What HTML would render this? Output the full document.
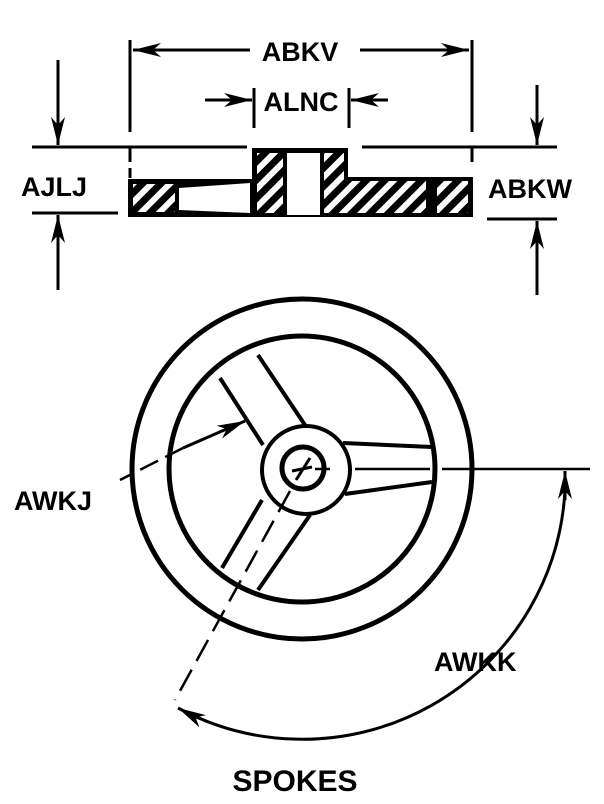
<!DOCTYPE html>
<html><head><style>html,body{margin:0;padding:0;background:#fff}svg{display:block}text{font-family:"Liberation Sans",sans-serif;font-weight:bold;fill:#000}</style></head><body>
<svg width="604" height="804" viewBox="0 0 604 804" xmlns="http://www.w3.org/2000/svg">
<defs>
<pattern id="h" width="13" height="13" patternUnits="userSpaceOnUse" patternTransform="rotate(45)">
<rect width="13" height="13" fill="#000"/><rect x="0" y="0" width="6" height="13" fill="#fff"/>
</pattern>
<marker id="a" viewBox="0 0 28 14" refX="28" refY="7" markerWidth="28" markerHeight="14" markerUnits="userSpaceOnUse" orient="auto"><path d="M0,0 L28,7 L0,14 L8,7 z" fill="#000"/></marker>
</defs>
<g stroke="#000" stroke-width="3" fill="none">
<line x1="130" y1="40" x2="130" y2="132"/><line x1="130" y1="148" x2="130" y2="162"/><line x1="130" y1="168" x2="130" y2="178"/>
<line x1="472" y1="40" x2="472" y2="132"/><line x1="472" y1="148" x2="472" y2="162"/>
<line x1="250" y1="50" x2="133" y2="50" marker-end="url(#a)"/>
<line x1="360" y1="50" x2="469" y2="50" marker-end="url(#a)"/>
<line x1="254" y1="88" x2="254" y2="128"/><line x1="349" y1="88" x2="349" y2="128"/>
<line x1="205" y1="100" x2="252" y2="100" marker-end="url(#a)"/>
<line x1="388" y1="100" x2="351" y2="100" marker-end="url(#a)"/>
<line x1="32" y1="147" x2="247" y2="147"/><line x1="32" y1="213" x2="118" y2="213"/>
<line x1="58" y1="60" x2="58" y2="145" marker-end="url(#a)"/>
<line x1="58" y1="290" x2="58" y2="215" marker-end="url(#a)"/>
<line x1="362" y1="147" x2="557" y2="147"/><line x1="487" y1="219" x2="557" y2="219"/>
<line x1="537" y1="85" x2="537" y2="145" marker-end="url(#a)"/>
<line x1="537" y1="295" x2="537" y2="221" marker-end="url(#a)"/>
</g>
<rect x="128" y="179" width="124" height="38" fill="#000"/>
<rect x="252" y="148" width="96" height="69" fill="#000"/>
<rect x="348" y="177" width="125" height="40" fill="#000"/>
<rect x="133" y="184" width="42" height="28" fill="url(#h)"/>
<polygon points="179,188 250,183 250,213 179,210" fill="#fff"/>
<rect x="257" y="153" width="26" height="60" fill="url(#h)"/>
<rect x="287" y="153" width="33" height="62" fill="#fff"/>
<rect x="324" y="153" width="20" height="60" fill="url(#h)"/>
<rect x="344" y="181" width="82" height="32" fill="url(#h)"/>
<rect x="437" y="181" width="31" height="32" fill="url(#h)"/>
<g stroke="#000" fill="none">
<circle cx="302" cy="469" r="170" stroke-width="5"/>
<circle cx="302" cy="469" r="133" stroke-width="5"/>
<g stroke-width="4">
<line x1="343" y1="443" x2="432" y2="447"/><line x1="345" y1="494" x2="432" y2="482"/>
<line x1="263" y1="445" x2="220" y2="378"/><line x1="305" y1="425" x2="258" y2="355"/>
<line x1="262" y1="500" x2="222" y2="568"/><line x1="310" y1="515" x2="258" y2="590"/>
</g>
<circle cx="306" cy="470" r="44" stroke-width="4" fill="#fff"/>
<circle cx="303" cy="468" r="21" stroke-width="5" fill="#fff"/>
<line x1="292" y1="471" x2="312" y2="467" stroke-width="3"/>
<line x1="296" y1="480" x2="310" y2="458" stroke-width="3"/>
<g stroke-width="2.5">
<line x1="315" y1="469" x2="330" y2="469"/>
<line x1="355" y1="469" x2="430" y2="469"/>
<line x1="442" y1="469" x2="590" y2="469"/>
<g stroke-dasharray="24,10"><line x1="290" y1="491" x2="175" y2="700"/></g>
<g stroke-dasharray="20,8"><line x1="183" y1="448" x2="120" y2="480"/></g>
</g>
<line x1="183" y1="448" x2="245" y2="421" stroke-width="3" marker-end="url(#a)"/>
<path d="M565,490 A263,263 0 0 1 178,708" stroke-width="3" marker-end="url(#a)"/>
<line x1="565" y1="500" x2="565" y2="471" stroke-width="3" marker-end="url(#a)"/>
</g>
<text x="300" y="61" font-size="27" text-anchor="middle">ABKV</text>
<text x="301" y="111" font-size="27" text-anchor="middle">ALNC</text>
<text x="21" y="196" font-size="27">AJLJ</text>
<text x="488" y="198" font-size="27">ABKW</text>
<text x="14" y="510" font-size="27">AWKJ</text>
<text x="434" y="671" font-size="27">AWKK</text>
<text x="295" y="791" font-size="30" text-anchor="middle">SPOKES</text>
</svg>
</body></html>
